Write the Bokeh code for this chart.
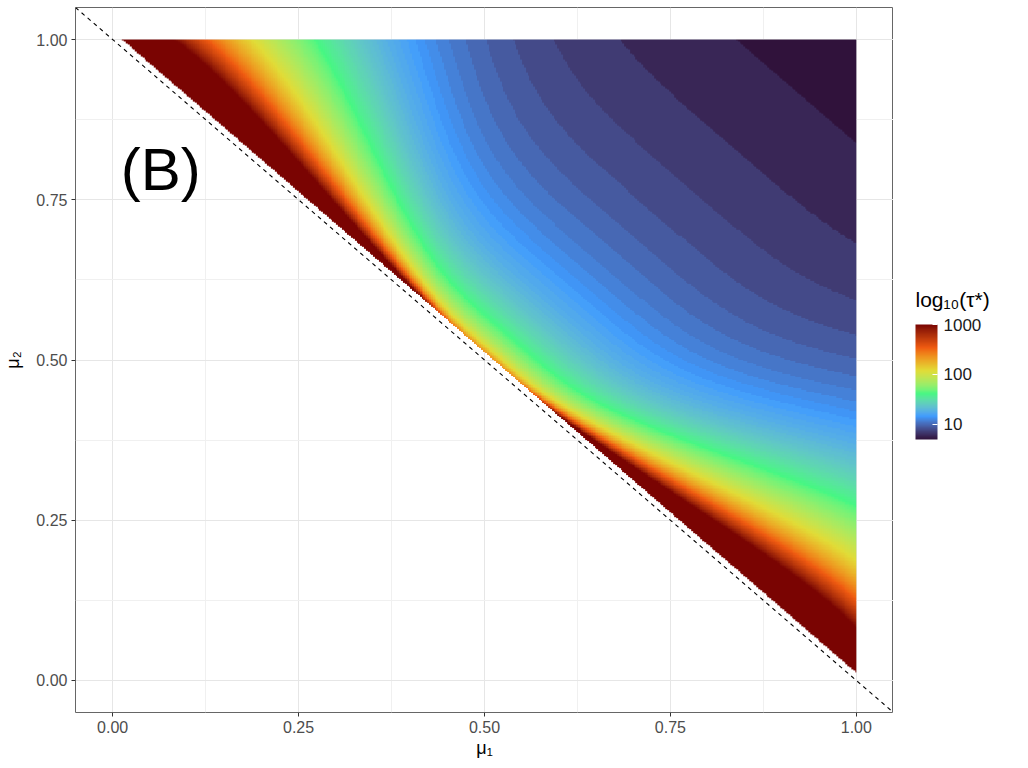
import numpy as np
from bokeh.plotting import figure
from bokeh.layouts import row
from bokeh.models import (LogColorMapper, ColorBar, FixedTicker, NumeralTickFormatter,
                          PrintfTickFormatter, Label, Range1d)
from bokeh.palettes import Turbo256
from bokeh.embed import file_html
from bokeh.resources import INLINE

# ---------------- data / labels ----------------
axis_ticks = [0.0, 0.25, 0.5, 0.75, 1.0]
axis_minor_ticks = [0.125, 0.375, 0.625, 0.875]
legend_ticks = [10, 100, 1000]
tau_limits = [5, 1000]          # colour-bar range (values above 1000 squished)
x_limits = [-0.05, 1.05]
y_limits = [-0.05, 1.05]
panel_label = "(B)"
legend_title = "log₁₀(τ*)"

# tau*(mu1, mu2) surface, parameters
tau_base = 5          # value in the top-right corner
s_coef = 9.03         # weight of the |mu1-mu2| term (corners)
s_exp = 4.5
s_tail = 0.77
d_pow = 2.77
d_coef = 2.7          # weight of (1-d)^k / d term (centre line)
d_exp = 0.65
d_cut = 0.012         # cells closer than this to mu1+mu2=1 are empty
n_grid = 400

# ---------------- build raster ----------------
mu = (np.arange(n_grid) + 0.5) / n_grid
M1, M2 = np.meshgrid(mu, mu)
d = M1 + M2 - 1.0
s = np.abs(M1 - M2)
with np.errstate(divide="ignore", invalid="ignore"):
    K = (s_coef * s ** s_exp * np.clip(1 - s, 0, None) ** s_tail / d ** d_pow
         + d_coef * np.clip(1 - d, 0, None) ** d_exp / d)
    tau = np.floor(tau_base + K)
tau[d < d_cut] = np.nan

# ---------------- palette: 6 turbo anchors, interpolated in CIE Lab ----------------
def _hex2rgb(h):
    return np.array([int(h[i:i + 2], 16) for i in (1, 3, 5)], float) / 255.0

_M = np.array([[0.4124564, 0.3575761, 0.1804375],
               [0.2126729, 0.7151522, 0.0721750],
               [0.0193339, 0.1191920, 0.9503041]])
_WHITE = np.array([0.95047, 1.0, 1.08883])

def _rgb2lab(rgb):
    lin = np.where(rgb <= 0.04045, rgb / 12.92, ((rgb + 0.055) / 1.055) ** 2.4)
    xyz = _M @ lin / _WHITE
    e = (6 / 29) ** 3
    f = np.where(xyz > e, np.cbrt(xyz), xyz / (3 * (6 / 29) ** 2) + 4 / 29)
    return np.array([116 * f[1] - 16, 500 * (f[0] - f[1]), 200 * (f[1] - f[2])])

def _lab2hex(lab):
    fy = (lab[0] + 16) / 116
    fx = fy + lab[1] / 500
    fz = fy - lab[2] / 200
    f = np.array([fx, fy, fz])
    xyz = np.where(f > 6 / 29, f ** 3, 3 * (6 / 29) ** 2 * (f - 4 / 29)) * _WHITE
    lin = np.clip(np.linalg.solve(_M, xyz), 0, 1)
    rgb = np.where(lin <= 0.0031308, 12.92 * lin, 1.055 * lin ** (1 / 2.4) - 0.055)
    r, g, b = (int(round(v * 255)) for v in np.clip(rgb, 0, 1))
    return "#%02x%02x%02x" % (r, g, b)

anchor_idx = [round(i * 255 / 5) for i in range(6)]
anchors = [_rgb2lab(_hex2rgb(Turbo256[i])) for i in anchor_idx]
anchor_pos = np.linspace(0, 1, 6)
palette = []
for t in np.linspace(0, 1, 256):
    lab = np.array([np.interp(t, anchor_pos, [a[k] for a in anchors]) for k in range(3)])
    palette.append(_lab2hex(lab))

mapper = LogColorMapper(palette=palette, low=tau_limits[0], high=tau_limits[1],
                        nan_color="rgba(0,0,0,0)")

FONT = "Liberation Sans"
FRAME_TOP, FRAME_H, BOTTOM = 7, 705, 50
FRAME_BOTTOM = FRAME_TOP + FRAME_H

p = figure(frame_width=818, frame_height=FRAME_H,
           x_range=Range1d(*x_limits), y_range=Range1d(*y_limits),
           output_backend="svg", toolbar_location=None,
           min_border_left=75, min_border_right=0, min_border_top=FRAME_TOP,
           min_border_bottom=BOTTOM)
p.background_fill_color = "white"
p.border_fill_color = "white"
p.outline_line_color = "#666666"
p.outline_line_width = 1

p.image(image=[tau], x=0, y=0, dw=1, dh=1, color_mapper=mapper)

# dashed identity line mu2 = 1 - mu1 across the panel
diag_x = list(x_limits)
diag_y = [1 - v for v in diag_x]
p.line(diag_x, diag_y, line_color="black", line_width=1.1, line_dash="4 4")

for ax, lab, stand in ((p.xaxis[0], "μ₁", 2), (p.yaxis[0], "μ₂", 10)):
    ax.ticker = FixedTicker(ticks=axis_ticks, minor_ticks=axis_minor_ticks)
    ax.formatter = NumeralTickFormatter(format="0.00")
    ax.axis_label = lab
    ax.axis_label_text_font = FONT
    ax.axis_label_text_font_style = "normal"
    ax.axis_label_text_font_size = "18px"
    ax.axis_label_text_color = "black"
    ax.axis_label_standoff = stand
    ax.major_label_text_font = FONT
    ax.major_label_text_font_size = "16px"
    ax.major_label_text_color = "#4d4d4d"
    ax.major_label_standoff = 4
    ax.axis_line_color = None
    ax.major_tick_line_color = "#333333"
    ax.major_tick_out = 4
    ax.major_tick_in = 0
    ax.minor_tick_line_color = None

for g in (p.xgrid[0], p.ygrid[0]):
    g.ticker = FixedTicker(ticks=axis_ticks, minor_ticks=axis_minor_ticks)
    g.grid_line_color = "#e6e6e6"
    g.grid_line_width = 1
    g.minor_grid_line_color = "#f0f0f0"
    g.minor_grid_line_width = 1
    g.level = "underlay"

p.add_layout(Label(x=0.011, y=0.797, text=panel_label, text_font=FONT,
                   text_font_size="60px", text_color="black",
                   text_baseline="alphabetic", text_align="left"))

# ---------------- legend panel (pixel coordinates, y up from the frame bottom) ----------------
q = figure(frame_width=127, frame_height=FRAME_H,
           x_range=Range1d(0, 127), y_range=Range1d(0, FRAME_H),
           output_backend="svg", toolbar_location=None, x_axis_type=None, y_axis_type=None,
           min_border_left=0, min_border_right=0, min_border_top=FRAME_TOP,
           min_border_bottom=BOTTOM)
q.outline_line_color = None
q.grid.visible = False
q.background_fill_color = "white"
q.border_fill_color = "white"

cb = ColorBar(color_mapper=mapper, ticker=FixedTicker(ticks=legend_ticks),
              formatter=PrintfTickFormatter(format="%d"),
              width=22, height=115, location=(22, FRAME_BOTTOM - 439),
              major_label_text_font=FONT, major_label_text_font_size="17px",
              major_label_text_color="#1a1a1a", label_standoff=6,
              major_tick_line_color="white", major_tick_in=5, major_tick_out=0,
              minor_tick_line_color=None, bar_line_color=None,
              border_line_color=None, background_fill_color=None, padding=0)
q.add_layout(cb, "center")
q.add_layout(Label(x=22, y=FRAME_BOTTOM - 287, text=legend_title, text_font=FONT,
                   text_font_size="21px", text_color="black",
                   text_baseline="top", text_align="left"))

layout = row(p, q, spacing=0)
open("out.html", "w").write(file_html(layout, INLINE))
